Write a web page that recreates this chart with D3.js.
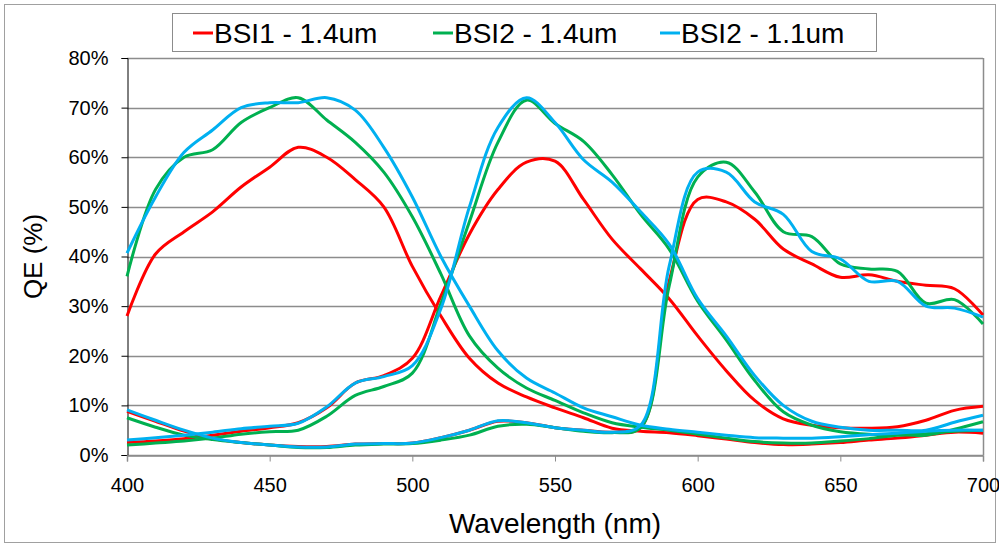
<!DOCTYPE html>
<html>
<head>
<meta charset="utf-8">
<script src="https://cdn.jsdelivr.net/npm/d3@7"></script>
<style>
  body { margin: 0; background: #fff; }
  text { font-family: "Liberation Sans", Arial, sans-serif; fill: #000; }
</style>
</head>
<body>
<div class="canvas"></div>
<script>
const dims = { width: 999, height: 544 };
const plot = { left: 127, right: 983, top: 58, bottom: 455 };

// wavelength grid (nm)
const wavelengths = d3.range(400, 701, 10);

// BSI1 - 1.4um
const bsi1Blue  = [28, 40.5, 45, 49, 54, 58, 62, 60, 55.5, 50, 38, 28, 19.5, 14.5, 11.7, 9.5, 7.5, 5.4, 4.8, 4.5, 3.9, 3.2, 2.5, 2.1, 2.2, 2.5, 3, 3.4, 4, 4.6, 4.4];
const bsi1Green = [2.5, 2.8, 3.3, 4, 4.8, 5.5, 6.5, 9.5, 14.5, 16, 19.5, 32, 44.5, 53.5, 59, 59.2, 51.5, 43.5, 37.5, 31.5, 24, 17, 11, 7.3, 6, 5.5, 5.4, 5.7, 7, 9, 9.8];
const bsi1Red   = [8.8, 6.8, 4.8, 3.3, 2.5, 2, 1.7, 1.7, 2.2, 2.3, 2.4, 3.5, 5, 6.8, 6.5, 5.5, 5, 4.6, 5.5, 35, 51.5, 51, 47.5, 41.5, 38.5, 35.8, 36.3, 35, 34.2, 33.5, 28.2];

// BSI2 - 1.4um
const bsi2aBlue  = [36, 53.5, 60, 61.5, 67, 70, 72, 67.5, 63, 57, 48, 36.5, 24, 17.5, 13.5, 11, 8.5, 6.5, 5.6, 5, 4.2, 3.4, 2.7, 2.4, 2.4, 2.8, 3.3, 4, 4.3, 4.8, 5];
const bsi2aGreen = [2, 2.4, 2.8, 3.4, 4.2, 4.7, 5, 7.8, 12, 13.8, 16.5, 30.5, 47, 63, 71.5, 66.8, 63.2, 56.5, 48.5, 41.5, 31, 23.2, 15, 8.7, 6, 4.7, 4.2, 4.1, 4, 5.2, 6.7];
const bsi2aRed   = [7.5, 5.6, 4, 3.1, 2.5, 2, 1.5, 1.5, 2, 2.2, 2.3, 3, 4, 5.8, 6.2, 5.5, 4.8, 4.5, 5.5, 34, 56, 59, 53, 45, 44, 38.5, 37.5, 37, 30.6, 31.3, 26.4];

// BSI2 - 1.1um
const bsi2bBlue  = [40.7, 52, 61, 65.5, 70, 71, 71, 72, 69.5, 62, 52, 40, 30, 21, 15.5, 12.5, 9.5, 7.7, 6, 5.2, 4.6, 4, 3.5, 3.4, 3.4, 3.7, 4.1, 4.4, 4.8, 5, 5];
const bsi2bGreen = [3, 3.5, 4, 4.6, 5.3, 5.8, 6.4, 9.7, 14.5, 15.8, 18, 29.5, 50, 66, 72, 67, 59.5, 55, 49, 42.5, 31.5, 24, 16, 10, 6.8, 5.6, 5, 5, 5, 6.6, 8];
const bsi2bRed   = [9.1, 7, 5, 3.4, 2.5, 2, 1.6, 1.6, 2.2, 2.3, 2.4, 3.5, 5, 6.9, 6.5, 5.5, 5, 4.6, 6, 38, 57, 57, 51, 48.5, 41, 39.5, 35, 35, 30, 29.6, 27.8];

const seriesNames = ["BSI1 - 1.4um", "BSI2 - 1.4um", "BSI2 - 1.1um"];
const seriesColors = ["#ff0000", "#00b050", "#00b0f0"];
const seriesCurves = [
  [bsi1Blue, bsi1Green, bsi1Red],
  [bsi2aBlue, bsi2aGreen, bsi2aRed],
  [bsi2bBlue, bsi2bGreen, bsi2bRed],
];

const xTicks = [400, 450, 500, 550, 600, 650, 700];
const yTicks = [0, 10, 20, 30, 40, 50, 60, 70, 80];

const svg = d3
  .select(".canvas")
  .append("svg")
  .attr("width", dims.width)
  .attr("height", dims.height);

// outer chart border
svg.append("rect")
  .attr("x", 4.5).attr("y", 4.5)
  .attr("width", 991).attr("height", 538)
  .attr("fill", "none").attr("stroke", "#a0a0a0");

const x = d3.scaleLinear().domain([400, 700]).range([plot.left, plot.right]);
const y = d3.scaleLinear().domain([0, 80]).range([plot.bottom, plot.top]);

// gridlines
svg.append("g")
  .selectAll("line")
  .data(yTicks)
  .join("line")
  .attr("x1", plot.left).attr("x2", plot.right)
  .attr("y1", (d) => Math.round(y(d)) + 0.5)
  .attr("y2", (d) => Math.round(y(d)) + 0.5)
  .attr("stroke", "#8c8c8c")
  .attr("stroke-width", 1.5);

// right border of the plot area
svg.append("line")
  .attr("x1", plot.right + 0.5).attr("x2", plot.right + 0.5)
  .attr("y1", plot.top).attr("y2", plot.bottom)
  .attr("stroke", "#8c8c8c").attr("stroke-width", 1.5);

// y axis
const yAxis = svg.append("g")
  .attr("transform", `translate(${plot.left + 0.5},0)`)
  .call(d3.axisLeft(y).tickValues(yTicks).tickFormat((d) => d + "%").tickSize(6).tickPadding(13));
yAxis.select(".domain").attr("stroke", "#000");
yAxis.selectAll(".tick line").attr("stroke", "#000");
yAxis.selectAll("text").style("font-size", "20px").attr("fill", "#000");

// x axis
const xAxis = svg.append("g")
  .attr("transform", `translate(0,${Math.round(plot.bottom) + 0.5})`)
  .call(d3.axisBottom(x).tickValues(xTicks).tickFormat(d3.format("d")).tickSize(6).tickPadding(16));
xAxis.select(".domain").attr("stroke", "#8c8c8c").attr("stroke-width", 1.5);
xAxis.selectAll(".tick line").attr("stroke", "#8c8c8c");
xAxis.selectAll("text").style("font-size", "20px").attr("fill", "#000");

// axis titles
svg.append("text")
  .attr("transform", `translate(42,${(plot.top + plot.bottom) / 2}) rotate(-90)`)
  .attr("text-anchor", "middle")
  .style("font-size", "26px")
  .text("QE (%)");

svg.append("text")
  .attr("x", (plot.left + plot.right) / 2)
  .attr("y", 533)
  .attr("text-anchor", "middle")
  .style("font-size", "28px")
  .text("Wavelength (nm)");

// curves
const line = d3.line()
  .x((d) => x(d[0]))
  .y((d) => y(d[1]))
  .curve(d3.curveCatmullRom.alpha(0.5));

seriesCurves.forEach((curves, i) => {
  svg.append("g")
    .selectAll("path")
    .data(curves)
    .join("path")
    .attr("d", (vals) => line(wavelengths.map((w, k) => [w, vals[k]])))
    .attr("fill", "none")
    .attr("stroke", seriesColors[i])
    .attr("stroke-width", 3)
    .attr("stroke-linejoin", "round");
});

// legend
const legend = svg.append("g");
legend.append("rect")
  .attr("x", 172.5).attr("y", 13.5)
  .attr("width", 704).attr("height", 38)
  .attr("fill", "#fff").attr("stroke", "#8c8c8c");

const legendX = [193, 433, 660];
const items = legend.selectAll("g")
  .data(seriesNames)
  .join("g")
  .attr("transform", (d, i) => `translate(${legendX[i]},33)`);
items.append("line")
  .attr("x1", 0).attr("x2", 20)
  .attr("stroke", (d, i) => seriesColors[i])
  .attr("stroke-width", 3);
items.append("text")
  .attr("x", 21).attr("y", 10)
  .style("font-size", "28px")
  .text((d) => d);
</script>
</body>
</html>
